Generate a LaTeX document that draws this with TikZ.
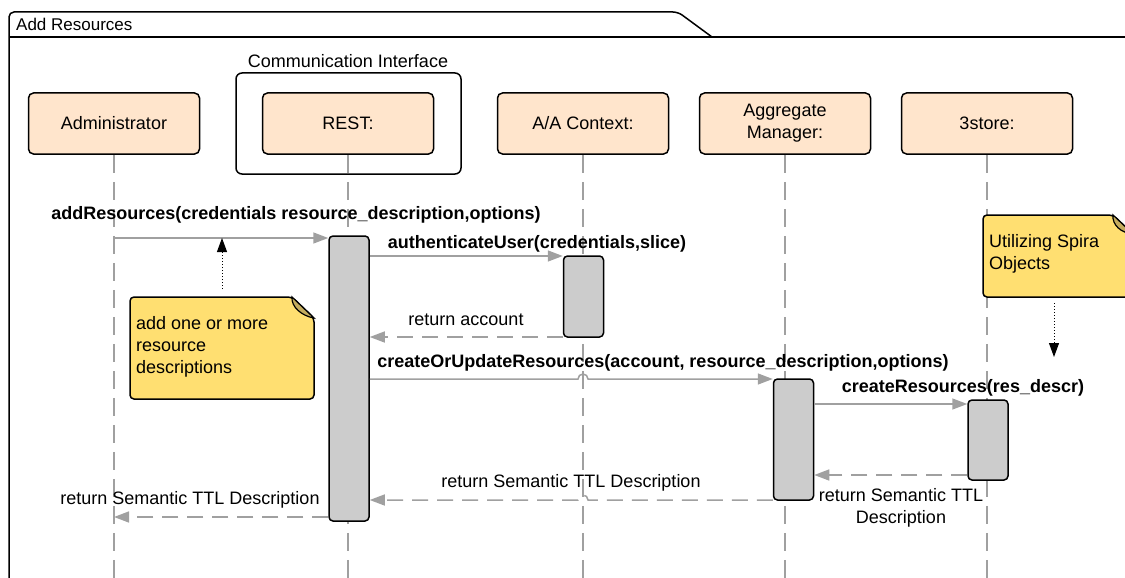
\documentclass[tikz,border=0pt]{standalone}
\usepackage{fontspec}
\setmainfont{Liberation Sans}
\usetikzlibrary{arrows.meta}

\definecolor{peach}{HTML}{FFE5CC}
\definecolor{notey}{HTML}{FFDF71}
\definecolor{foldy}{HTML}{C4AC5E}
\definecolor{actg}{HTML}{CCCCCC}
\definecolor{lineg}{HTML}{A0A0A0}

\tikzset{
  head/.style={draw, line width=1.5pt, fill=peach, rounded corners=5pt, minimum width=171pt, minimum height=61pt, align=center, inner sep=0pt},
  act/.style={draw, line width=1.5pt, fill=actg, rounded corners=4pt, minimum width=40pt, inner sep=0pt},
  life/.style={lineg, line width=1.5pt, dash pattern=on 18pt off 9pt},
  msg/.style={lineg, line width=1.5pt, -{Triangle[length=15pt,width=11pt]}},
  ret/.style={msg, dash pattern=on 16pt off 9pt},
  call/.style={font=\fontsize{18}{22}\selectfont\bfseries},
  notebox/.style={draw, line width=1.5pt, fill=notey, rounded corners=4pt},
  hint/.style={black, line width=1pt, dotted, -{Triangle[length=14pt,width=10pt]}},
}

\begin{document}
\begin{tikzpicture}[x=1pt,y=-1pt,font=\fontsize{18}{22}\selectfont]

\clip (0,0) rectangle (1125,578);

\coordinate (bot) at (0,578);

% frame
\draw [line width=1.5pt, rounded corners=5pt] (9,590) -- (9,12) -- (678,12) -- (712,37);
\draw [line width=1.5pt] (9,37) -- (1130,37);
\node [anchor=west, inner sep=0pt, font=\fontsize{17}{20}\selectfont] (title) at (16,24) {Add Resources};

\node [draw, line width=1.5pt, rounded corners=6pt, minimum width=225pt, minimum height=101pt] (comm) at (348.5,123.5) {};
\node (commlabel) at (348,61) {Communication Interface};

\node [head] (admin) at (114,123.5) {Administrator};
\node [head] (rest) at (348,123.5) {REST:};
\node [head] (aactx) at (583,123.5) {A/A Context:};
\node [head] (aggmgr) at (785,123.5) {Aggregate\\Manager:};
\node [head] (store) at (987,123.5) {3store:};

\foreach \n in {admin,rest,aactx,aggmgr,store}
  \draw [life] (\n.south) -- (\n.south |- bot);

\coordinate (m1) at (0,238);
\coordinate (m2) at (0,256);
\coordinate (m3) at (0,337);
\coordinate (m4) at (0,379);
\coordinate (m5) at (0,404);
\coordinate (m6) at (0,475);
\coordinate (m7) at (0,500);
\coordinate (m8) at (0,517);

\node [act, minimum height=285pt] (actrest) at (349,378.5) {};
\node [act, minimum height=81pt] (actaa) at (583.5,296.5) {};
\node [act, minimum height=121pt] (actagg) at (793.5,439.5) {};
\node [act, minimum height=80pt] (actstore) at (988,440) {};

% messages
\draw [msg] (admin |- m1) -- (actrest.west |- m1);
\node [call] (l1) at (296,215) {addResources(credentials resource\_description,options)};

\draw [msg] (actrest.east |- m2) -- (actaa.west |- m2);
\node [call] (l2) at (537,244) {authenticateUser(credentials,slice)};

\draw [ret] (actaa.west |- m3) -- (actrest.east |- m3);
\node (l3) at (466,320) {return account};

\draw [msg] (actrest.east |- m4) -- ([xshift=-5pt]aactx |- m4) arc [start angle=180, end angle=0, radius=5pt] -- (actagg.west |- m4);
\node [call] (l4) at (663,363) {createOrUpdateResources(account, resource\_description,options)};

\draw [msg] (actagg.east |- m5) -- (actstore.west |- m5);
\node [call] (l5) at (963,388) {createResources(res\_descr)};

\draw [ret] (actstore.west |- m6) -- (actagg.east |- m6);
\node [align=center] (l6) at (901,508) {return Semantic TTL\\Description};

\draw [ret] (actagg.west |- m7) -- ([xshift=5pt]aactx |- m7) arc [start angle=0, end angle=180, radius=5pt] -- (actrest.east |- m7);
\node (l7) at (571,483) {return Semantic TTL Description};

\draw [ret] (actrest.west |- m8) -- (admin |- m8);
\node (l8) at (190,500) {return Semantic TTL Description};

% notes
\draw [notebox] (130,399) -- (130,297) -- (292,297) -- (314,318) -- (314,399) -- cycle;
\draw [line width=1.2pt, fill=foldy] (292,297) .. controls (291,307) and (302,316) .. (314,318) -- cycle;
\node [anchor=west, align=left, inner sep=0pt] (note1) at (136,347) {add one or more\\resource\\descriptions};
\coordinate (n1) at (222,289);
\draw [hint] (n1) -- (n1 |- m1);

\draw [notebox] (983,297) -- (983,215) -- (1113,215) -- (1133,234) -- (1133,297) -- cycle;
\draw [line width=1.2pt, fill=foldy] (1113,215) .. controls (1112,225) and (1121,233) .. (1133,234) -- cycle;
\node [anchor=west, align=left, inner sep=0pt] (note2) at (989,253.5) {Utilizing Spira\\Objects};
\coordinate (n2) at (1054,303);
\coordinate (n2end) at (1054,357);
\draw [hint] (n2) -- (n2end);

\end{tikzpicture}
\end{document}
